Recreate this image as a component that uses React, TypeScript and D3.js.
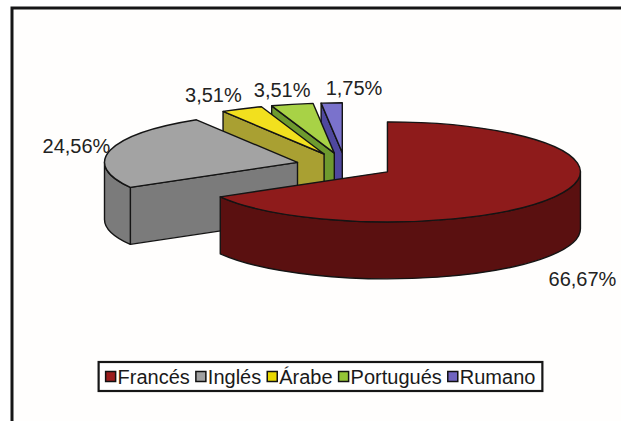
import { useMemo } from 'react'
import * as d3 from 'd3'

// data
const languages = ['Francés', 'Inglés', 'Árabe', 'Portugués', 'Rumano']
const shares = [66.67, 24.56, 3.51, 3.51, 1.75]

const topColors = ['#8e1b1b', '#a3a3a3', '#f2e01e', '#a8d246', '#7a72cc']
const sideColors = ['#5a1010', '#7b7b7b', '#a9a032', '#6e9a2e', '#4f489e']
const legendColors = ['#9b1c1c', '#a0a0a0', '#e8d800', '#94c436', '#7064c0']

const W = 621
const H = 421
const CX = 345
const CY = 165.5
const RX = 193
const RY = 50
const DEPTH = 57
const EXPLODE = 49
const FONT = '"Liberation Sans", Arial, sans-serif'
const LABEL_SIZE = 20
const LEGEND_SIZE = 20

const fmt = d3.formatLocale({ decimal: ',', thousands: '.', grouping: [3], currency: ['', ''] }).format('.2f')

function measure(text: string, size: number) {
  const ctx = document.createElement('canvas').getContext('2d')
  if (!ctx) return text.length * size * 0.55
  ctx.font = `${size}px ${FONT}`
  return ctx.measureText(text).width
}

export default function App() {
  const slices = useMemo(() => {
    const arcs = d3.pie<number>().sort(null).value(d => d)(shares)
    return arcs.map((a, i) => {
      const a0 = a.startAngle
      const a1 = a.endAngle
      const mid = (a0 + a1) / 2
      const ox = CX + EXPLODE * Math.sin(mid)
      const oy = CY - EXPLODE * (RY / RX) * Math.cos(mid)
      const pt = (t: number, dy = 0): [number, number] => [ox + RX * Math.sin(t), oy - RY * Math.cos(t) + dy]
      const P = (p: [number, number]) => `${p[0].toFixed(2)},${p[1].toFixed(2)}`

      const top = `M${ox},${oy}L${P(pt(a0))}A${RX},${RY} 0 ${a1 - a0 > Math.PI ? 1 : 0} 1 ${P(pt(a1))}Z`

      const cuts: string[] = []
      const cut = (t: number) =>
        `M${ox},${oy}L${P(pt(t))}L${P(pt(t, DEPTH))}L${ox},${oy + DEPTH}Z`
      if (-Math.sin(a0) > 0.001) cuts.push(cut(a0))
      if (Math.sin(a1) > 0.001) cuts.push(cut(a1))

      let side: string | null = null
      const s0 = Math.max(a0, Math.PI / 2)
      const s1 = Math.min(a1, (3 * Math.PI) / 2)
      if (s1 > s0) {
        const lg = s1 - s0 > Math.PI ? 1 : 0
        side = `M${P(pt(s0))}A${RX},${RY} 0 ${lg} 1 ${P(pt(s1))}L${P(pt(s1, DEPTH))}A${RX},${RY} 0 ${lg} 0 ${P(pt(s0, DEPTH))}Z`
      }

      // data label outside the rim
      const c = -Math.cos(mid)
      const s = Math.sin(mid)
      const rim = pt(mid)
      const anchor = s < -0.3 ? 'end' : s < -0.1 ? 'middle' : 'start'
      const lx = rim[0] + (anchor === 'end' ? 0 : anchor === 'middle' ? -10 : -6)
      const ly = rim[1] + 6 + 14 * c + (c > 0 ? DEPTH + 19 : 0)

      return { i, top, cuts, side, oy, lx, ly, anchor, label: `${fmt(shares[i])}%` }
    })
  }, [])

  const order = [...slices].sort((a, b) => a.oy - b.oy)

  // legend layout
  const legend = useMemo(() => {
    const sq = 10
    const gapIn = 2
    const gapOut = 6
    const pad = 7
    let x = 0
    const items = languages.map((name, i) => {
      const w = measure(name, LEGEND_SIZE)
      const item = { name, i, x }
      x += sq + gapIn + w + (i < languages.length - 1 ? gapOut : 0)
      return item
    })
    const width = x + pad * 2
    const left = 320.5 - width / 2
    return { items, width, left, pad, sq, gapIn }
  }, [])

  const LY = 362
  const LH = 29

  return (
    <svg
      width={W}
      height={H}
      style={{ position: 'absolute', left: 0, top: 0, background: '#fff' }}
      fontFamily={FONT}
    >
      <rect x={12} y={8} width={W + 20} height={H + 20} fill="#fffefd" stroke="#161616" strokeWidth={3} />

      {order.map(sl => (
        <g key={sl.i} stroke="#141414" strokeWidth={1.4} strokeLinejoin="round">
          {sl.cuts.map((d, k) => (
            <path key={k} d={d} fill={sideColors[sl.i]} />
          ))}
          {sl.side && <path d={sl.side} fill={sideColors[sl.i]} />}
          <path d={sl.top} fill={topColors[sl.i]} />
        </g>
      ))}

      {slices.map(sl => (
        <text
          key={'l' + sl.i}
          x={sl.lx}
          y={sl.ly}
          textAnchor={sl.anchor}
          fontSize={LABEL_SIZE}
          fill="#222"
        >
          {sl.label}
        </text>
      ))}

      <g transform={`translate(${legend.left},${LY})`}>
        <rect x={0} y={0} width={legend.width} height={LH} fill="#fff" stroke="#161616" strokeWidth={2.2} />
        {legend.items.map(it => (
          <g key={it.name} transform={`translate(${legend.pad + it.x},0)`}>
            <rect
              x={0}
              y={(LH - legend.sq) / 2}
              width={legend.sq}
              height={legend.sq}
              fill={legendColors[it.i]}
              stroke="#111"
              strokeWidth={1.5}
            />
            <text x={legend.sq + legend.gapIn} y={LH / 2 + 7} fontSize={LEGEND_SIZE} fill="#1a1a1a">
              {it.name}
            </text>
          </g>
        ))}
      </g>
    </svg>
  )
}
